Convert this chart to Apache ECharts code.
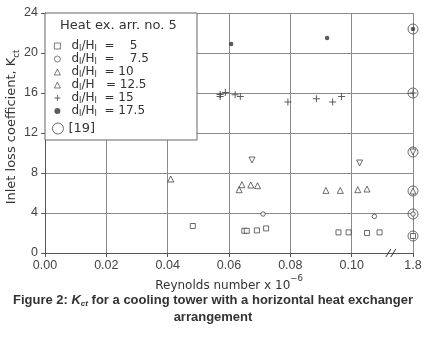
<!DOCTYPE html>
<html>
<head>
<meta charset="utf-8">
<script src="https://cdn.jsdelivr.net/npm/echarts@6/dist/echarts.min.js"></script>
<style>
  html, body { margin: 0; padding: 0; background: #fff; }
  #chart { width: 426px; height: 339px; }
</style>
</head>
<body>
<div id="chart"></div>
<script>
// Reynolds number x 10^-6 and K_ct.
// 1.8 is the broken-axis value, drawn at the right edge of the axis.
const xTicks = [0, 0.02, 0.04, 0.06, 0.08, 0.10, 0.12];
const xTickLabels = ['0.00', '0.02', '0.04', '0.06', '0.08', '0.10', '1.8'];
const yTicks = [0, 4, 8, 12, 16, 20, 24];

const re5 = [0.0482, 0.0650, 0.0658, 0.0691, 0.0721, 0.0957, 0.0990, 0.1050, 0.1091, 1.8];
const k5 = [2.7, 2.22, 2.22, 2.26, 2.46, 2.06, 2.06, 2.0, 2.06, 1.7];
const re75 = [0.0711, 0.1074, 1.8];
const k75 = [3.9, 3.66, 3.9];
const re10 = [0.0410, 0.0633, 0.0642, 0.0671, 0.0693, 0.0916, 0.0963, 0.1020, 0.1050, 1.8];
const k10 = [7.4, 6.33, 6.83, 6.8, 6.73, 6.26, 6.26, 6.33, 6.4, 6.2];
const re125 = [0.0675, 0.1026, 1.8];
const k125 = [9.3, 9.0, 10.1];
const re15 = [0.0571, 0.0571, 0.0588, 0.0620, 0.0637, 0.0792, 0.0885, 0.0938, 0.0967, 1.8];
const k15 = [15.86, 15.66, 16.06, 15.83, 15.66, 15.1, 15.43, 15.1, 15.66, 16.0];
const re175 = [0.0607, 0.0920, 1.8];
const k175 = [20.9, 21.5, 22.4];
const re19 = [1.8, 1.8, 1.8, 1.8, 1.8, 1.8];
const k19 = [1.7, 3.9, 6.2, 10.1, 16.0, 22.4];

const X_MAX = 0.12;
const breakAt = [0.1131, 0];

const ink = '#333';
const gridCol = '#8a8a8a';
const sans = 'DejaVu Sans, sans-serif';
const helv = 'Liberation Sans, Arial, sans-serif';

function pos(re) {
    return re > X_MAX ? X_MAX : re;
}
function pts(xs, ys) {
    return xs.map((x, i) => [pos(x), ys[i]]);
}

const plusPath = 'path://M3,0h1v3h3v1h-3v3h-1v-3h-3v-1h3z';

const legendRich = {
    p: { fontFamily: sans, fontSize: 12, color: ink, padding: [0, 0, 0, 6], lineHeight: 13 },
    t: { fontFamily: sans, fontSize: 12, color: ink, lineHeight: 13 },
    s: { fontFamily: sans, fontSize: 8, color: ink, lineHeight: 8, verticalAlign: 'bottom' }
};
const legendText = {
    '5':    '{p|d}{s|I}{t|/H}{s|I}{t|  =    5}',
    '7.5':  '{p|d}{s|I}{t|/H}{s|I}{t|  =    7.5}',
    '10':   '{p|d}{s|I}{t|/H}{s|I}{t|  = 10}',
    '12.5': '{p|d}{s|I}{t|/H   = 12.5}',
    '15':   '{p|d}{s|I}{t|/H}{s|I}{t|  = 15}',
    '17.5': '{p|d}{s|I}{t|/H}{s|I}{t|  = 17.5}'
};

const hollow = { color: '#fff', borderColor: ink, borderWidth: 0.9 };

const option = {
    animation: false,
    textStyle: { fontFamily: helv },
    grid: { left: 45, top: 13, right: 13, bottom: 86, outerBoundsMode: 'none', containLabel: false },
    title: [
        {
            text: '{b|Figure 2: }{k|K}{c|ct}{b| for a cooling tower with a horizontal heat exchanger}',
            left: 'center',
            top: 292,
            padding: 0,
            textStyle: {
                rich: {
                    b: { fontFamily: helv, fontSize: 13, fontWeight: 'bold', color: ink, lineHeight: 16 },
                    k: { fontFamily: helv, fontSize: 13, fontWeight: 'bold', fontStyle: 'italic', color: ink, lineHeight: 16 },
                    c: { fontFamily: helv, fontSize: 8, fontWeight: 'bold', fontStyle: 'italic', color: ink, lineHeight: 8, verticalAlign: 'bottom' }
                }
            }
        },
        {
            text: 'arrangement',
            left: 'center',
            top: 311,
            padding: 0,
            textStyle: { fontFamily: helv, fontSize: 13, fontWeight: 'bold', color: ink }
        }
    ],
    legend: [
        {
            orient: 'vertical',
            left: 54,
            top: 40,
            padding: 0,
            itemWidth: 6,
            itemHeight: 6,
            itemGap: 0.5,
            z: 5,
            data: ['5', '7.5', '10', '12.5', '15', '17.5'],
            formatter: name => legendText[name],
            itemStyle: { borderWidth: 0.8 },
            textStyle: { rich: legendRich },
            selectedMode: false
        },
        {
            orient: 'vertical',
            left: 52,
            top: 122,
            padding: 0,
            itemWidth: 11,
            itemHeight: 11,
            z: 5,
            data: ['[19]'],
            itemStyle: { borderWidth: 0.9 },
            textStyle: { fontFamily: sans, fontSize: 13, color: ink },
            selectedMode: false
        }
    ],
    graphic: [
        {
            type: 'rect',
            z: 3,
            shape: { x: 45, y: 13, width: 152, height: 127 },
            style: { fill: '#fff', stroke: '#666', lineWidth: 1 }
        },
        {
            type: 'text',
            z: 5,
            left: 60,
            top: 19,
            style: { text: 'Heat ex. arr. no. 5', fontSize: 13, fill: ink, fontFamily: sans }
        }
    ],
    xAxis: {
        type: 'value',
        min: 0,
        max: X_MAX,
        interval: 0.02,
        name: '{t|Reynolds number x 10}{u|−6}',
        nameLocation: 'middle',
        nameGap: 21,
        nameMoveOverlap: false,
        nameTextStyle: {
            rich: {
                t: { fontFamily: sans, fontSize: 12, color: ink, lineHeight: 18, verticalAlign: 'bottom' },
                u: { fontFamily: sans, fontSize: 8.5, color: ink, lineHeight: 9, verticalAlign: 'top' }
            }
        },
        axisLine: { lineStyle: { color: '#555', width: 1 } },
        axisTick: { show: true, length: 4, lineStyle: { color: '#555' } },
        axisLabel: {
            fontSize: 12.5,
            color: '#444',
            margin: 6,
            formatter: v => {
                const i = xTicks.findIndex(t => Math.abs(t - v) < 1e-9);
                return i >= 0 ? xTickLabels[i] : '';
            }
        },
        splitLine: { show: true, lineStyle: { color: gridCol, width: 1 } }
    },
    yAxis: {
        type: 'value',
        min: yTicks[0],
        max: yTicks[yTicks.length - 1],
        interval: 4,
        name: '{t|Inlet loss coefficient, K}{s|ct}',
        nameLocation: 'middle',
        nameRotate: 90,
        nameGap: 24,
        nameMoveOverlap: false,
        nameTextStyle: {
            rich: {
                t: { fontFamily: sans, fontSize: 13, color: ink, lineHeight: 16, verticalAlign: 'top', padding: [0, 0, 0, 12] },
                s: { fontFamily: sans, fontSize: 8.5, color: ink, lineHeight: 9, verticalAlign: 'bottom' }
            }
        },
        axisLine: { show: true, lineStyle: { color: '#555', width: 1 } },
        axisTick: { show: true, length: 4, lineStyle: { color: '#555' } },
        axisLabel: { fontSize: 12.5, color: '#444', margin: 7 },
        splitLine: { show: true, lineStyle: { color: gridCol, width: 1 } }
    },
    series: [
        {
            name: '[19]', type: 'scatter', symbol: 'circle', symbolSize: 10,
            itemStyle: { color: 'rgba(255,255,255,0)', borderColor: ink, borderWidth: 0.9 },
            data: pts(re19, k19)
        },
        {
            name: '5', type: 'scatter', symbol: 'rect', symbolSize: 5,
            itemStyle: hollow, data: pts(re5, k5)
        },
        {
            name: '7.5', type: 'scatter', symbol: 'circle', symbolSize: 4.5,
            itemStyle: hollow, data: pts(re75, k75)
        },
        {
            name: '10', type: 'scatter', symbol: 'triangle', symbolSize: 6,
            itemStyle: hollow, data: pts(re10, k10)
        },
        {
            name: '12.5', type: 'scatter', symbol: 'triangle', symbolSize: 6, symbolRotate: 180,
            itemStyle: hollow, data: pts(re125, k125)
        },
        {
            name: '15', type: 'scatter', symbol: plusPath, symbolSize: 7,
            itemStyle: { color: ink, borderWidth: 0 }, data: pts(re15, k15)
        },
        {
            name: '17.5', type: 'scatter', symbol: 'circle', symbolSize: 4.5,
            itemStyle: { color: ink, borderWidth: 0 }, data: pts(re175, k175)
        },
        {
            // axis break mark "//"
            type: 'custom',
            silent: true,
            data: [breakAt],
            renderItem: (params, api) => {
                const p = api.coord([api.value(0), api.value(1)]);
                return {
                    type: 'group',
                    children: [
                        { type: 'line', shape: { x1: p[0] - 6, y1: p[1] + 4, x2: p[0] - 1, y2: p[1] - 4 }, style: { stroke: ink, lineWidth: 1 } },
                        { type: 'line', shape: { x1: p[0] - 1, y1: p[1] + 4, x2: p[0] + 4, y2: p[1] - 4 }, style: { stroke: ink, lineWidth: 1 } }
                    ]
                };
            }
        }
    ]
};

const chart = echarts.init(document.getElementById('chart'), null, { renderer: 'canvas' });
chart.setOption(option);
</script>
</body>
</html>
